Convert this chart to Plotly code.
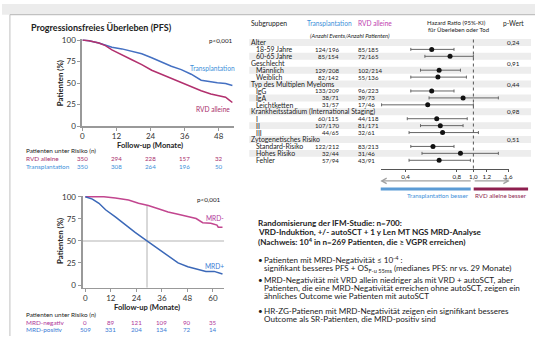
import plotly.graph_objects as go

W, H = 539, 341
FONT = "Lato"

# ---------------- data ----------------
# Upper Kaplan-Meier (PFS)
months_tx = [0, 2.3, 5.8, 8.1, 10.4, 13.9, 17.4, 20.9, 24.4, 27.8, 31.3, 34.8, 38.3, 41.8, 45.2, 47.5, 50.4, 52.8]
pfs_tx = [100, 99.2, 96.6, 94.3, 91.6, 89.7, 87, 84, 79.4, 74.4, 69.5, 65.6, 60.3, 53.4, 51.5, 50.4, 49.6, 47.3]
months_rvd = [0, 2.3, 5.8, 8.1, 10.4, 13.9, 17.4, 20.9, 24.4, 27.8, 31.3, 34.8, 38.3, 41.8, 45.2, 48.7, 50.4, 51.6, 52.8]
pfs_rvd = [100, 99.2, 96.6, 93.5, 88.5, 83.2, 77.1, 71.4, 64.9, 60.3, 55.3, 50.4, 45.8, 41.2, 37.4, 35.1, 33.6, 30.5, 27.5]
risk_times_upper = [0, 12, 24, 36, 48]
risk_rvd = [350, 294, 228, 157, 32]
risk_tx = [350, 308, 264, 196, 50]

# Lower Kaplan-Meier (MRD)
months_mrdneg = [0, 8.7, 14.1, 20.3, 25, 29.6, 34.3, 38.9, 43.6, 48.2, 52.1, 55.2, 59, 61.9, 62.5, 64.5]
pfs_mrdneg = [100, 100, 98.5, 96.3, 92.6, 90.1, 86.4, 82.7, 80.2, 78, 75.4, 70.6, 69.9, 68, 65.5, 65.5]
months_mrdpos = [0, 3.3, 6.4, 9.5, 14.1, 18.8, 23.4, 28.8, 34.3, 38.9, 43.6, 48.2, 52.9, 56.7, 60.6, 64.5]
pfs_mrdpos = [100, 97.4, 92.6, 85.3, 77.2, 68, 59.6, 50.4, 41.2, 33.2, 25.1, 20.7, 17.4, 15.5, 15.5, 12.6]
median_mrdpos = 29
risk_times_lower = [0, 12, 24, 36, 48, 60]
risk_mrdneg = [0, 89, 121, 109, 90, 35]
risk_mrdpos = [509, 331, 204, 134, 72, 14]

# Forest plot
sub_labels = ["Alter", "18-59 Jahre", "60-65 Jahre", "Geschlecht", "Männlich", "Weiblich",
              "Typ des Multiplen Myeloms", "IgG", "IgA", "Leichtketten",
              "Krankheitsstadium (International Staging)", "I", "II", "III",
              "Zytogenetisches Risiko", "Standard-Risiko", "Hohes Risiko", "Fehler"]
is_header = [1, 0, 0, 1, 0, 0, 1, 0, 0, 0, 1, 0, 0, 0, 1, 0, 0, 0]
tx_counts = ["", "124/196", "85/154", "", "129/208", "82/142", "", "133/209", "38/71", "31/57",
             "", "60/115", "107/170", "44/65", "", "122/212", "32/44", "57/94"]
rvd_counts = ["", "85/185", "72/165", "", "102/214", "55/136", "", "96/223", "39/73", "17/46",
              "", "44/118", "81/171", "32/61", "", "83/213", "31/46", "43/91"]
hr = [None, 0.57, 0.73, None, 0.63, 0.62, None, 0.57, 0.87, 0.54, None, 0.61, 0.64, 0.66, None, 0.58, 0.84, 0.63]
hr_lo = [None, 0.43, 0.52, None, 0.49, 0.43, None, 0.43, 0.55, 0.29, None, 0.41, 0.49, 0.42, None, 0.43, 0.50, 0.42]
hr_hi = [None, 0.77, 1.0, None, 0.84, 0.91, None, 0.77, 1.40, 1.0, None, 0.92, 0.87, 1.07, None, 0.77, 1.40, 0.96]
p_values = ["0,24", "", "", "0,91", "", "", "0,44", "", "", "", "0,98", "", "", "", "0,51", "", "", ""]
hr_ticks = [0.4, 0.8, 1.0, 1.2, 1.6]
hr_ticktext = ["0,4", "0,8", "1,0", "1,2", "1,6"]

# ---------------- colours ----------------
C_TX = "#4470c2"
C_TX_TXT = "#3d8fd9"
C_RVD = "#b2306e"
C_RVD_TXT = "#a92d6c"
C_NEG = "#c2468f"
C_NEG_TXT = "#b0379a"
C_POS = "#3b68b8"
C_POS_TXT = "#3a7bd5"
TXT = "#222222"
AX = "#999999"


def px(x):
    return x / W


def py(y):
    return 1 - y / H


fig = go.Figure()

# curves
fig.add_trace(go.Scatter(x=months_tx, y=pfs_tx, mode="lines", line=dict(color=C_TX, width=1.5), xaxis="x", yaxis="y"))
fig.add_trace(go.Scatter(x=months_rvd, y=pfs_rvd, mode="lines", line=dict(color=C_RVD, width=1.5), xaxis="x", yaxis="y"))
fig.add_trace(go.Scatter(x=months_mrdneg, y=pfs_mrdneg, mode="lines", line=dict(color=C_NEG, width=1.5), xaxis="x2", yaxis="y2"))
fig.add_trace(go.Scatter(x=months_mrdpos, y=pfs_mrdpos, mode="lines", line=dict(color=C_POS, width=1.5), xaxis="x2", yaxis="y2"))

# forest
rows = list(range(len(sub_labels)))
idx = [i for i in rows if hr[i] is not None]
fig.add_trace(go.Scatter(
    x=[hr[i] for i in idx], y=[i for i in idx], mode="markers",
    marker=dict(color="#111111", size=5, symbol="circle"),
    error_x=dict(type="data", symmetric=False,
                 array=[hr_hi[i] - hr[i] for i in idx],
                 arrayminus=[hr[i] - hr_lo[i] for i in idx],
                 color="#666666", thickness=1, width=1.5),
    xaxis="x3", yaxis="y3"))

tickfont = dict(family=FONT, size=8, color="#333333")
axis_common = dict(showgrid=False, zeroline=False, showline=True, linecolor=AX,
                   ticks="outside", ticklen=3, tickcolor=AX, tickwidth=1, tickfont=tickfont)

shapes = []
annotations = []


def ann(text, x, y, size, color=TXT, xanchor="center", xref="paper", yref="paper", textangle=0, italic=False):
    f = dict(family=FONT, size=size, color=color)
    if italic:
        f["style"] = "italic"
    annotations.append(dict(text=text, x=x if xref != "paper" else px(x), y=y if yref != "paper" else py(y),
                            xref=xref, yref=yref, xanchor=xanchor, yanchor="middle", borderpad=0,
                            showarrow=False, font=f, textangle=textangle))


# background frame
shapes.append(dict(type="rect", xref="paper", yref="paper", x0=0, x1=1, y0=py(11), y1=1,
                   fillcolor="#ececec", line=dict(width=0), layer="below"))
shapes.append(dict(type="line", xref="paper", yref="paper", x0=px(8), x1=1, y0=py(11), y1=py(11),
                   line=dict(color="#b5b5b5", width=1)))
shapes.append(dict(type="line", xref="paper", yref="paper", x0=px(8), x1=px(8), y0=0, y1=py(11),
                   line=dict(color="#c0c0c0", width=1)))

# ---- upper KM text ----
ann("<b>Progressionsfreies Überleben (PFS)</b>", 28, 24, 9, xanchor="left")
ann("<b>Patienten (%)</b>", 59, 81, 7.8, textangle=-90)
ann("<b>Follow-up (Monate)</b>", 150, 144.5, 7.6)
ann("p<0,001", 221, 38, 6.3)
ann("Transplantation", 213, 65.3, 6.6, color=C_TX_TXT)
ann("RVD alleine", 213, 108, 6.6, color=C_RVD_TXT)
ann("Patienten unter Risiko (n)", 23, 150.5, 6.4, xanchor="left")
ann("RVD alleine", 23, 159, 6.4, color=C_RVD_TXT, xanchor="left")
ann("Transplantation", 23, 166.7, 6.4, color=C_TX_TXT, xanchor="left")
for t, n in zip(risk_times_upper, risk_rvd):
    annotations.append(dict(text=str(n), x=t, y=py(159), xref="x", yref="paper", showarrow=False, borderpad=0,
                            font=dict(family=FONT, size=6.2, color=C_RVD_TXT), xanchor="center", yanchor="middle"))
for t, n in zip(risk_times_upper, risk_tx):
    annotations.append(dict(text=str(n), x=t, y=py(166.7), xref="x", yref="paper", showarrow=False, borderpad=0,
                            font=dict(family=FONT, size=6.2, color=C_TX_TXT), xanchor="center", yanchor="middle"))

# ---- lower KM text ----
ann("<b>Patienten (%)</b>", 58, 243, 7.8, textangle=-90)
ann("<b>Follow-up (Monate)</b>", 146.7, 311.7, 7.6)
ann("p<0,001", 209, 200.3, 6.3)
ann("MRD-", 215.5, 219.3, 6.6, color=C_NEG_TXT)
ann("MRD+", 214.7, 268.7, 6.6, color=C_POS_TXT)
ann("Patienten unter Risiko (n)", 23, 318.5, 6.4, xanchor="left")
ann("MRD-negativ", 23, 326.7, 6.4, color=C_NEG_TXT, xanchor="left")
ann("MRD-positiv", 23, 334.3, 6.4, color=C_POS_TXT, xanchor="left")
for t, n in zip(risk_times_lower, risk_mrdneg):
    annotations.append(dict(text=str(n), x=t, y=py(326.7), xref="x2", yref="paper", showarrow=False, borderpad=0,
                            font=dict(family=FONT, size=6.2, color=C_NEG_TXT), xanchor="center", yanchor="middle"))
for t, n in zip(risk_times_lower, risk_mrdpos):
    annotations.append(dict(text=str(n), x=t, y=py(334.3), xref="x2", yref="paper", showarrow=False, borderpad=0,
                            font=dict(family=FONT, size=6.2, color=C_POS_TXT), xanchor="center", yanchor="middle"))

# reference lines (median)
shapes.append(dict(type="line", xref="x2", yref="y2", x0=-1.3, x1=65.3, y0=50, y1=50,
                   line=dict(color="#cccccc", width=1.5), layer="below"))
shapes.append(dict(type="line", xref="x2", yref="y2", x0=median_mrdpos, x1=median_mrdpos, y0=-3, y1=90,
                   line=dict(color="#cccccc", width=1.5), layer="below"))

# ---- forest plot ----
ann("Subgruppen", 251, 20, 6.8, xanchor="left")
ann("Transplantation", 331.3, 20, 6.6, color=C_TX_TXT)
ann("RVD alleine", 376.7, 20, 6.6, color="#c040b0")
ann("(Anzahl Events/Anzahl Patienten)", 351.7, 32, 5.8, italic=True)
ann("Hazard Ratio (95%-KI)", 460, 19.5, 6)
ann("für Überleben oder Tod", 461.7, 26.3, 6)
ann("p-Wert", 517.5, 20, 6.6)

for i in rows:
    if i % 2 == 0:
        shapes.append(dict(type="rect", xref="paper", yref="y3", x0=px(250), x1=px(535),
                           y0=i - 0.5, y1=i + 0.5, fillcolor="#ededed", line=dict(width=0), layer="below"))
    xl = 251 if is_header[i] else 256
    annotations.append(dict(text=sub_labels[i], x=px(xl), y=i, xref="paper", yref="y3", showarrow=False, borderpad=0,
                            xanchor="left", yanchor="middle", font=dict(family=FONT, size=6.9, color=TXT)))
    if tx_counts[i]:
        annotations.append(dict(text=tx_counts[i], x=px(342), y=i, xref="paper", yref="y3", showarrow=False, borderpad=0,
                                xanchor="right", yanchor="middle", font=dict(family=FONT, size=6.1, color=TXT)))
    if rvd_counts[i]:
        annotations.append(dict(text=rvd_counts[i], x=px(359), y=i, xref="paper", yref="y3", showarrow=False, borderpad=0,
                                xanchor="left", yanchor="middle", font=dict(family=FONT, size=6.1, color=TXT)))
    if p_values[i]:
        annotations.append(dict(text=p_values[i], x=px(517.5), y=i, xref="paper", yref="y3", showarrow=False, borderpad=0,
                                xanchor="center", yanchor="middle", font=dict(family=FONT, size=6.3, color=TXT)))

shapes.append(dict(type="line", xref="x3", yref="paper", x0=1, x1=1, y0=py(169), y1=py(36),
                   line=dict(color="#555555", width=1, dash="dot")))

# direction arrows (lines + open heads) and bars
AR = "#a0a0a0"
ya = 181.7
shapes.append(dict(type="line", xref="paper", yref="paper", x0=px(384), x1=px(474), y0=py(ya), y1=py(ya),
                   line=dict(color=AR, width=1.3)))
shapes.append(dict(type="path", xref="paper", yref="paper",
                   path=f"M {px(389)},{py(ya - 2.8)} L {px(384)},{py(ya)} L {px(389)},{py(ya + 2.8)}",
                   line=dict(color=AR, width=1.3)))
shapes.append(dict(type="line", xref="paper", yref="paper", x0=px(478), x1=px(512), y0=py(ya), y1=py(ya),
                   line=dict(color=AR, width=1.3)))
shapes.append(dict(type="path", xref="paper", yref="paper",
                   path=f"M {px(507)},{py(ya - 2.8)} L {px(512)},{py(ya)} L {px(507)},{py(ya + 2.8)}",
                   line=dict(color=AR, width=1.3)))
shapes.append(dict(type="rect", xref="paper", yref="paper", x0=px(383), x1=px(474), y0=py(191.5), y1=py(188.5),
                   fillcolor="#5b9bd5", line=dict(width=0)))
shapes.append(dict(type="rect", xref="paper", yref="paper", x0=px(477), x1=px(532), y0=py(191.5), y1=py(188.5),
                   fillcolor="#8e1f4f", line=dict(width=0)))
ann("Transplantation besser", 473, 197.2, 6.2, color=C_TX_TXT, xanchor="right")
ann("RVD alleine besser", 477.5, 197.2, 6.2, color="#8e1f4f", xanchor="left")

# ---- text block ----
FS = 8.1
ann("<b>Randomisierung der IFM-Studie: n=700:</b>", 258, 225, FS, xanchor="left")
ann("<b>VRD-Induktion, +/- autoSCT + 1 y Len MT NGS MRD-Analyse</b>", 258, 234.5, FS, xanchor="left")
ann("<b>(Nachweis: 10<sup>4</sup> in n=269 Patienten, die ≥ VGPR erreichen)</b>", 258, 243.5, FS, xanchor="left")
bullets = [
    (262.5, "•", "Patienten mit MRD-Negativität ≤ 10<sup>-4</sup> :"),
    (271.5, "", "signifikant besseres PFS + OS<sub>F-u 55ms</sub> (medianes PFS: nr vs. 29 Monate)"),
    (283, "•", "MRD-Negativität mit VRD allein niedriger als mit VRD + autoSCT, aber"),
    (291.5, "", "Patienten, die eine MRD-Negativität erreichen ohne autoSCT, zeigen ein"),
    (299.5, "", "ähnliches Outcome wie Patienten mit autoSCT"),
    (315.5, "•", "HR-ZG-Patienen mit MRD-Negativität zeigen ein signifikant besseres"),
    (324, "", "Outcome als SR-Patienten, die MRD-positiv sind"),
]
for y, b, t in bullets:
    if b:
        ann(b, 258, y, FS, xanchor="left")
    ann(t, 263.5, y, 8.1, xanchor="left")

fig.update_layout(
    width=W, height=H, margin=dict(l=0, r=0, t=0, b=0),
    paper_bgcolor="white", plot_bgcolor="white", showlegend=False, hovermode=False,
    font=dict(family=FONT, color=TXT),
    xaxis=dict(domain=[px(81.3), px(234.7)], range=[0, 53.4], tickvals=risk_times_upper,
               anchor="y", linewidth=1.5, ticklabelstandoff=-1, **axis_common),
    yaxis=dict(domain=[py(125.5), py(36.1)], range=[0, 101], tickvals=[0, 25, 50, 75, 100],
               anchor="x", linewidth=2, **axis_common),
    xaxis2=dict(domain=[px(81.5), px(224.7)], range=[-1.3, 65.3], tickvals=risk_times_lower,
                anchor="y2", linewidth=1.5, ticklabelstandoff=-1, **axis_common),
    yaxis2=dict(domain=[py(291.4), py(197.1)], range=[-3, 101], tickvals=[0, 25, 50, 75, 100],
                anchor="x2", linewidth=2, **axis_common),
    xaxis3=dict(domain=[px(383), px(512.7)], type="log", range=[-0.5426, 0.2085],
                tickvals=hr_ticks, ticktext=hr_ticktext, anchor="y3",
                showgrid=False, zeroline=False, showline=True, linecolor="#555555", linewidth=1,
                ticks="outside", ticklen=2, tickcolor="#555555",
                tickfont=dict(family=FONT, size=6.2, color=TXT)),
    yaxis3=dict(domain=[py(169), py(35)], range=[18.19, -0.632], visible=False, anchor="x3"),
    shapes=shapes, annotations=annotations,
)

fig.write_html("out.html", config={"displayModeBar": False, "staticPlot": True},
               post_script="document.body.style.margin='0px'; document.body.style.overflow='hidden';")
